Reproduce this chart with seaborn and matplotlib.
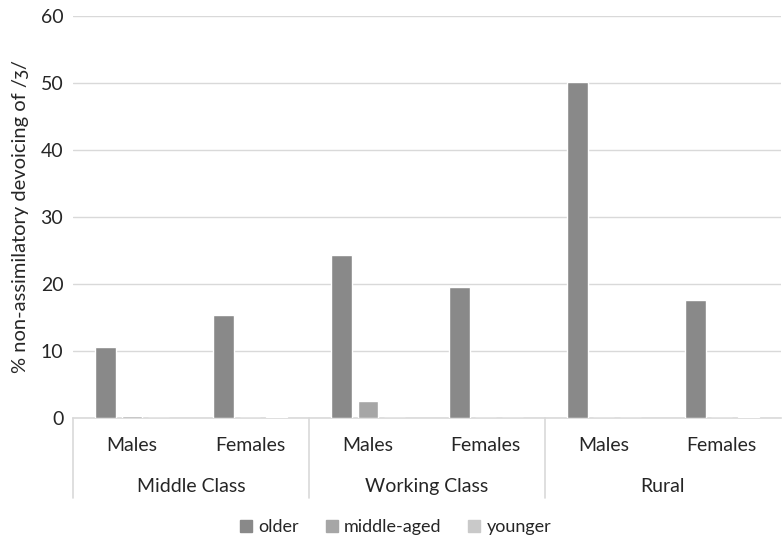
import pandas as pd
import numpy as np
import matplotlib.pyplot as plt
import seaborn as sns

# values
classes = ["Middle Class", "Working Class", "Rural"]
sexes = ["Males", "Females"]
age_groups = ["older", "middle-aged", "younger"]
older = [10.6, 15.3, 24.4, 19.5, 50.2, 17.6]
middle_aged = [0.3, 0.0, 2.5, 0.0, 0.0, 0.0]
younger = [0.0, 0.2, 0.0, 0.0, 0.0, 0.2]
bar_colors = ["#898989", "#a6a6a6", "#c9c9c9"]

# build a long table: one row per bar
cats = [c + " " + s for c in classes for s in sexes]
df = pd.DataFrame({"group": cats * 3,
                   "age": np.repeat(age_groups, len(cats)),
                   "value": older + middle_aged + younger})

sns.set_style("white")
plt.rcParams["font.family"] = ["Lato", "DejaVu Sans"]

fig = plt.figure(figsize=(7.82, 5.41), dpi=100)
ax = fig.add_axes([0.0934, 0.2274, 0.905, 0.743])

sns.barplot(data=df, x="group", y="value", hue="age", order=cats,
            hue_order=age_groups, palette=bar_colors, width=0.67, gap=0.21,
            saturation=1, ax=ax, legend=False, zorder=3)

ax.set_ylim(0, 60)
ax.set_xlim(-0.5, 5.5)
ax.set_yticks(range(0, 61, 10))
ax.yaxis.grid(True, color="#d9d9d9", lw=1)
ax.set_axisbelow(True)
for s in ["top", "right", "left"]:
    ax.spines[s].set_visible(False)
ax.spines["bottom"].set_color("#d9d9d9")
ax.spines["bottom"].set_linewidth(1.2)
ax.spines["bottom"].set_zorder(1)
ax.tick_params(axis="both", length=0, labelsize=14, colors="#262626")
ax.tick_params(axis="x", pad=14)
ax.tick_params(axis="y", pad=7)
ax.set_xticks(range(len(cats)))
ax.set_xticklabels(sexes * 3)
ax.set_xlabel("")
ax.set_ylabel("% non-assimilatory devoicing of /ʒ/", fontsize=14.5,
              color="#262626", labelpad=8)

# second level of the category axis
trans = ax.get_xaxis_transform()
for i, c in enumerate(classes):
    ax.text(2 * i + 0.5, -0.17, c, transform=trans, ha="center", va="center",
            fontsize=14, color="#262626")
for xb in [-0.5, 1.5, 3.5]:
    ax.plot([xb, xb], [0, -0.2], transform=trans, color="#d9d9d9", lw=1.2,
            clip_on=False)

# legend below
handles = [plt.Rectangle((0, 0), 1, 1, color=c) for c in bar_colors]
fig.legend(handles, age_groups, loc="center", bbox_to_anchor=(0.506, 0.026),
           ncol=3, frameon=False, fontsize=13, handlelength=0.65,
           handleheight=0.65, handletextpad=0.35, columnspacing=1.5)

fig.savefig("out.png", dpi=100)
